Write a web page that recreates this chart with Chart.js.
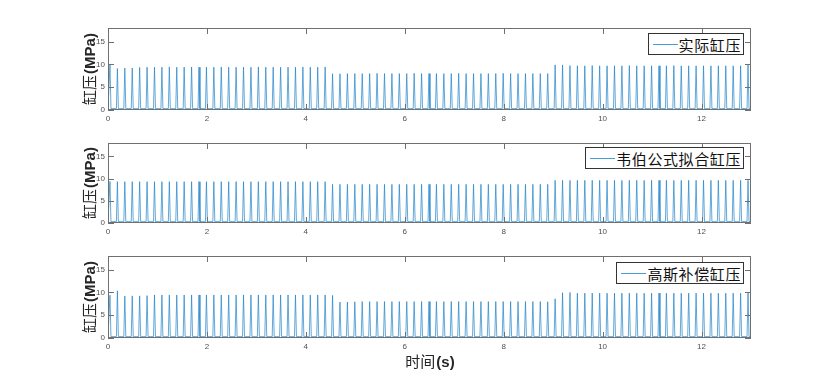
<!DOCTYPE html>
<html>
<head>
<meta charset="utf-8">
<script src="https://cdn.jsdelivr.net/npm/chart.js@4.4.1/dist/chart.umd.min.js"></script>
<style>
  body { margin: 0; background: #fff; width: 831px; height: 381px; position: relative; overflow: hidden; font-family: "Liberation Sans", Arial, sans-serif; }
  .box { position: absolute; left: 0; width: 831px; }
  .ytitle { position: absolute; left: 89px; white-space: nowrap; transform: translate(-50%, -50%) rotate(-90deg); font-size: 15px; color: #262626; line-height: 1; }
  .cjk { font-family: "Noto Sans CJK SC"; }
  .b { font-weight: bold; font-family: "Liberation Sans", Arial, sans-serif; margin-left: 1px; }
  .xtitle { position: absolute; left: 430px; top: 361px; transform: translate(-50%, -50%); font-size: 15px; color: #262626; white-space: nowrap; line-height: 1; }
  .legend { position: absolute; right: 87px; height: 20px; border: 1px solid #333; background: #fff; display: flex; align-items: center; padding: 0 2px 0 4px; font-family: "Noto Sans CJK SC"; font-size: 15px; letter-spacing: 0.6px; line-height: 1; color: #111; }
  .legend i { display: inline-block; width: 25px; border-top: 1px solid #4a9bd4; margin-right: 1px; }
</style>
</head>
<body>
<div class="box" style="top:18px;height:110px"><canvas id="c1"></canvas></div>
<div class="box" style="top:133px;height:108px"><canvas id="c2"></canvas></div>
<div class="box" style="top:246px;height:110px"><canvas id="c3"></canvas></div>

<div class="ytitle" style="top:69px"><span class="cjk">缸压</span><span class="b">(MPa)</span></div>
<div class="ytitle" style="top:183px"><span class="cjk">缸压</span><span class="b">(MPa)</span></div>
<div class="ytitle" style="top:297px"><span class="cjk">缸压</span><span class="b">(MPa)</span></div>
<div class="xtitle"><span class="cjk">时间</span><span class="b">(s)</span></div>

<script>
// spike (peak) times in seconds, one per cycle
const spikeTimes = [
  0.04, 0.19, 0.34, 0.49, 0.64, 0.79, 0.94, 1.09, 1.24, 1.39,
  1.54, 1.69, 1.84, 1.99, 2.14, 2.29, 2.44, 2.59, 2.74, 2.89,
  3.04, 3.19, 3.34, 3.49, 3.64, 3.79, 3.94, 4.09, 4.24, 4.39,
  4.54, 4.69, 4.84, 4.99, 5.14, 5.29, 5.44, 5.59, 5.74, 5.89,
  6.04, 6.19, 6.34, 6.49, 6.64, 6.79, 6.94, 7.09, 7.24, 7.39,
  7.54, 7.69, 7.84, 7.99, 8.14, 8.29, 8.44, 8.59, 8.74, 8.89,
  9.04, 9.19, 9.34, 9.49, 9.64, 9.79, 9.94, 10.09, 10.24, 10.39,
  10.54, 10.69, 10.84, 10.99, 11.14, 11.29, 11.44, 11.59, 11.74, 11.89,
  12.04, 12.19, 12.34, 12.49, 12.64, 12.79, 12.94
];

// peak pressure per cycle (MPa)
const actualPeaks = [
  10.0, 9.1, 9.2, 9.2, 9.35, 9.4, 9.4, 9.4, 9.45, 9.4,
  9.4, 9.45, 9.4, 9.4, 9.4, 9.45, 9.4, 9.4, 9.4, 9.4,
  9.45, 9.4, 9.4, 9.4, 9.4, 9.4, 9.45, 9.4, 9.4, 9.45,
  7.95, 7.95, 8.0, 8.0, 8.0, 8.0, 8.05, 8.0, 8.0, 8.0,
  8.0, 8.05, 8.0, 8.0, 8.0, 8.0, 8.0, 8.05, 8.0, 8.0,
  8.0, 8.0, 8.0, 8.05, 8.0, 8.0, 8.0, 8.0, 8.0, 8.0,
  9.9, 9.9, 9.75, 9.7, 9.7, 9.75, 9.7, 9.7, 9.7, 9.7,
  9.75, 9.7, 9.7, 9.7, 9.7, 9.7, 9.75, 9.7, 9.7, 9.7,
  9.7, 9.7, 9.7, 9.7, 9.7, 9.7, 9.9
];
const weberPeaks = [
  9.35, 9.3, 9.3, 9.3, 9.3, 9.3, 9.3, 9.3, 9.3, 9.3,
  9.3, 9.3, 9.3, 9.3, 9.3, 9.3, 9.3, 9.3, 9.3, 9.3,
  9.3, 9.3, 9.3, 9.3, 9.3, 9.3, 9.3, 9.3, 9.3, 9.3,
  8.7, 8.7, 8.7, 8.7, 8.7, 8.7, 8.7, 8.7, 8.7, 8.7,
  8.7, 8.7, 8.7, 8.7, 8.7, 8.7, 8.7, 8.7, 8.7, 8.7,
  8.7, 8.7, 8.7, 8.7, 8.7, 8.7, 8.7, 8.7, 8.7, 8.7,
  9.6, 9.6, 9.6, 9.6, 9.6, 9.6, 9.6, 9.6, 9.6, 9.6,
  9.6, 9.6, 9.6, 9.6, 9.6, 9.6, 9.6, 9.6, 9.6, 9.6,
  9.6, 9.6, 9.6, 9.6, 9.6, 9.6, 9.6
];
const gaussPeaks = [
  9.4, 10.35, 9.2, 9.25, 9.25, 9.3, 9.45, 9.45, 9.45, 9.45,
  9.45, 9.45, 9.45, 9.45, 9.45, 9.45, 9.45, 9.45, 9.45, 9.45,
  9.45, 9.45, 9.45, 9.45, 9.45, 9.45, 9.45, 9.45, 9.45, 9.45,
  9.35, 7.9, 7.9, 7.95, 8.0, 8.0, 8.0, 8.0, 8.0, 8.0,
  8.0, 8.0, 8.0, 8.0, 8.0, 8.0, 8.0, 8.0, 8.0, 8.0,
  8.0, 8.0, 8.0, 8.0, 8.0, 8.0, 8.0, 8.0, 8.0, 7.95,
  8.6, 9.95, 10.0, 9.85, 9.85, 9.85, 9.85, 9.85, 9.85, 9.85,
  9.85, 9.85, 9.85, 9.85, 9.85, 9.85, 9.85, 9.85, 9.85, 9.85,
  9.85, 9.85, 9.85, 9.85, 9.85, 9.85, 9.85
];

const seriesLabels = ["实际缸压", "韦伯公式拟合缸压", "高斯补偿缸压"];
const baseLevel = 0.3;      // pressure between firing pulses
const xTicks = [0, 2, 4, 6, 8, 10, 12];
const yTicks = [0, 5, 10, 15];

// matlab-like box with inward ticks
const boxPlugin = {
  id: "boxTicks",
  afterDraw(chart) {
    const c = chart.ctx, a = chart.chartArea;
    const xs = chart.scales.x, ys = chart.scales.y;
    c.save();
    c.strokeStyle = "#707070";
    c.lineWidth = 1;
    c.strokeRect(a.left + 0.5, a.top + 0.5, a.right - a.left - 1, a.bottom - a.top - 1);
    c.beginPath();
    xTicks.forEach(v => {
      const px = Math.round(xs.getPixelForValue(v)) + 0.5;
      c.moveTo(px, a.bottom); c.lineTo(px, a.bottom - 6);
      c.moveTo(px, a.top); c.lineTo(px, a.top + 6);
    });
    yTicks.forEach(v => {
      const py = Math.round(ys.getPixelForValue(v)) + 0.5;
      c.moveTo(a.left, py); c.lineTo(a.left + 6, py);
      c.moveTo(a.right, py); c.lineTo(a.right - 6, py);
    });
    c.stroke();
    c.restore();
  }
};

function spikePoints(peaks) {
  const pts = [{ x: 0, y: baseLevel }];
  spikeTimes.forEach((t, i) => {
    pts.push({ x: t - 0.02, y: baseLevel });
    pts.push({ x: t, y: peaks[i] });
    pts.push({ x: t + 0.02, y: baseLevel });
  });
  pts.push({ x: 13, y: baseLevel });
  return pts;
}

function makeChart(id, label, peaks) {
  return new Chart(document.getElementById(id), {
    type: "line",
    data: {
      datasets: [{
        label: label,
        data: spikePoints(peaks),
        borderColor: "#1f82c8",
        borderWidth: 0.7,
        pointRadius: 0,
        tension: 0,
        fill: false
      }]
    },
    options: {
      responsive: true,
      maintainAspectRatio: false,
      animation: false,
      layout: { padding: { left: 88, right: 80, top: 10, bottom: 0 } },
      plugins: { legend: { display: false }, tooltip: { enabled: false } },
      scales: {
        x: {
          type: "linear", min: 0, max: 13,
          afterBuildTicks: s => { s.ticks = xTicks.map(v => ({ value: v })); },
          afterFit: s => { s.height = 18; },
          grid: { display: false, drawTicks: false },
          border: { display: false },
          ticks: { padding: 4, maxRotation: 0, color: "#505050", font: { size: 8, family: "Liberation Sans" } }
        },
        y: {
          min: 0, max: 18,
          afterBuildTicks: s => { s.ticks = yTicks.map(v => ({ value: v })); },
          afterFit: s => { s.width = 20; },
          grid: { display: false, drawTicks: false },
          border: { display: false },
          ticks: { padding: 3, color: "#505050", font: { size: 8, family: "Liberation Sans" } }
        }
      }
    },
    plugins: [boxPlugin]
  });
}

const charts = [
  makeChart("c1", seriesLabels[0], actualPeaks),
  makeChart("c2", seriesLabels[1], weberPeaks),
  makeChart("c3", seriesLabels[2], gaussPeaks)
];

// legend boxes in the top right corner of each plot
const legendTops = [33, 147, 262];
charts.forEach((ch, i) => {
  const d = document.createElement("div");
  d.className = "legend";
  d.style.top = legendTops[i] + "px";
  d.innerHTML = "<i></i><span></span>";
  d.querySelector("span").textContent = ch.data.datasets[0].label;
  document.body.appendChild(d);
});
</script>
</body>
</html>
